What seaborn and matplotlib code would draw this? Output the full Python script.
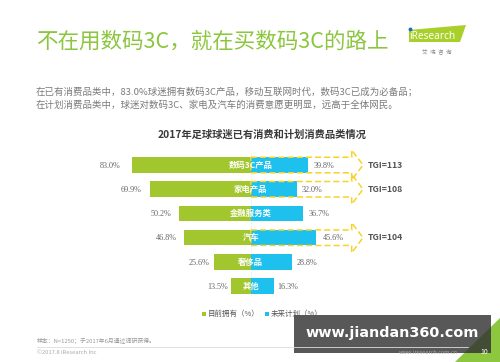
import numpy as np
import pandas as pd
import matplotlib
matplotlib.use("Agg")
import matplotlib.pyplot as plt
import seaborn as sns
from matplotlib.patches import Polygon, Rectangle

# ---------------- data ----------------
categories = ["数码3C产品", "家电产品", "金融服务类", "汽车", "奢侈品", "其他"]
owned = [83.0, 69.9, 50.2, 46.8, 25.6, 13.5]
planned = [39.8, 32.0, 36.7, 45.6, 28.8, 16.3]
tgi_labels = ["TGI=113", "TGI=108", None, "TGI=104", None, None]
legend_labels = ["目前拥有（%）", "未来计划（%）"]

title = "不在用数码3C，就在买数码3C的路上"
body1 = "在已有消费品类中，83.0%球迷拥有数码3C产品，移动互联网时代，数码3C已成为必备品；"
body2 = "在计划消费品类中，球迷对数码3C、家电及汽车的消费意愿更明显，远高于全体网民。"
chart_title = "2017年足球球迷已有消费和计划消费品类情况"
note = "样本：N=1250；于2017年6月通过调研获得。"
copyright_txt = "©2017.8 iResearch Inc"
site_txt = "www.iresearch.com.cn"
watermark = "www.jiandan360.com"

GREEN = "#a2c62e"
BLUE = "#1ec0ee"
YELLOW = "#f6d32b"
TITLE_GREEN = "#8cc63f"

sns.set_theme(style="white")
plt.rcParams["font.family"] = ["Noto Sans CJK SC", "DejaVu Sans"]

fig = plt.figure(figsize=(5, 3.62), dpi=100)
bg = fig.add_axes([0, 0, 1, 1])
bg.set_xlim(0, 500)
bg.set_ylim(362, 0)
bg.axis("off")

# ---------------- chart ----------------
ax = fig.add_axes([107.3 / 500, (362 - 298.3) / 362, 287 / 500, 145.4 / 362])
df = pd.DataFrame({"cat": categories,
                   "owned": [-v for v in owned],
                   "planned": planned})
ax.plot([0, 0], [-0.5, 5.6], color="#d6ecf6", lw=0.7, ls=":", zorder=0)
sns.barplot(data=df, x="owned", y="cat", color=GREEN, width=0.64,
            saturation=1, linewidth=0, ax=ax, orient="h", zorder=2)
sns.barplot(data=df, x="planned", y="cat", color=BLUE, width=0.64,
            saturation=1, linewidth=0, ax=ax, orient="h", zorder=2)
ax.set_xlim(-100, 100)
ax.set_ylim(5.5, -0.5)
ax.axis("off")

for i, (cat, o, p) in enumerate(zip(categories, owned, planned)):
    ax.text(0, i, cat, ha="center", va="center", color="white",
            fontsize=6, fontweight="bold", zorder=4)
    ax.text(-(o * 1.08 + 1), i + 0.03, f"{o:.1f}%", ha="right", va="center",
            family="Liberation Serif", fontsize=5.9, color="#666666")
    ax.text(p * 1.08 + 1, i + 0.03, f"{p:.1f}%", ha="left", va="center",
            family="Liberation Serif", fontsize=5.9, color="#666666")

h, H, xb, xt = 0.32, 0.62, 70.3, 78.2
for i, t in enumerate(tgi_labels):
    if t is None:
        continue
    pts = [(0, i - h), (xb, i - h), (xb, i - H), (xt, i),
           (xb, i + H), (xb, i + h), (0, i + h)]
    ax.add_patch(Polygon(pts, closed=True, fill=False, edgecolor=YELLOW,
                         lw=1.1, linestyle=(0, (4, 2)), zorder=3,
                         clip_on=False))
    ax.text(81.7, i, t, ha="left", va="center", fontsize=6.3,
            fontweight="bold", color="#555555")

# ---------------- slide texts ----------------
bg.text(36, 42, title, color=TITLE_GREEN, fontsize=15.5, va="center")
bg.text(36, 91.5, body1, color="#7a7a7a", fontsize=6.8, va="center")
bg.text(36, 105, body2, color="#7a7a7a", fontsize=6.8, va="center")
bg.text(262.5, 135, chart_title, color="#3a3a3a", fontsize=7.4,
        fontweight="bold", ha="center", va="center")

# legend
bg.add_patch(Rectangle((202, 312), 3.5, 3.5, color=GREEN, lw=0))
bg.text(207.5, 314, legend_labels[0], color="#555555", fontsize=5.4, va="center")
bg.add_patch(Rectangle((265, 312), 3.5, 3.5, color=BLUE, lw=0))
bg.text(270.5, 314, legend_labels[1], color="#555555", fontsize=5.4, va="center")

# footer
bg.text(37, 340.7, note, color="#999999", fontsize=4.2, va="center")
bg.plot([37, 468], [347, 347], color="#dddddd", lw=0.6)
bg.text(37, 352.7, copyright_txt, color="#aaaaaa", fontsize=4.2, va="center")
bg.text(458, 353, site_txt, color="#aaaaaa", fontsize=4.0, va="center", ha="right")
bg.add_patch(Polygon([(455, 362), (500, 362), (500, 318)], closed=True,
                     color="#8dc63f", lw=0))
bg.text(484, 352, "10", color="white", fontsize=5, va="center", ha="center")

# watermark
bg.add_patch(Rectangle((294, 315), 197, 37.7, color="#333333", alpha=0.82, lw=0))
bg.text(392, 333.5, watermark, color="white", fontsize=10.4, fontweight="bold",
        family="DejaVu Sans", ha="center", va="center")

# logo
bg.add_patch(Polygon([(409, 30), (466, 25), (460, 42), (409, 42)], closed=True,
                     color="#a8cf2a", lw=0))
bg.text(409, 36.5, "iResearch", color="white", fontsize=7.3, va="center",
        family="Noto Sans")
bg.plot([409.8], [29], marker="o", ms=1.8, color="#1b6fc0")
bg.text(437, 51.7, "艾  瑞  咨  询", color="#888888", fontsize=4, va="center",
        ha="center")

fig.savefig("out.png", dpi=100)
